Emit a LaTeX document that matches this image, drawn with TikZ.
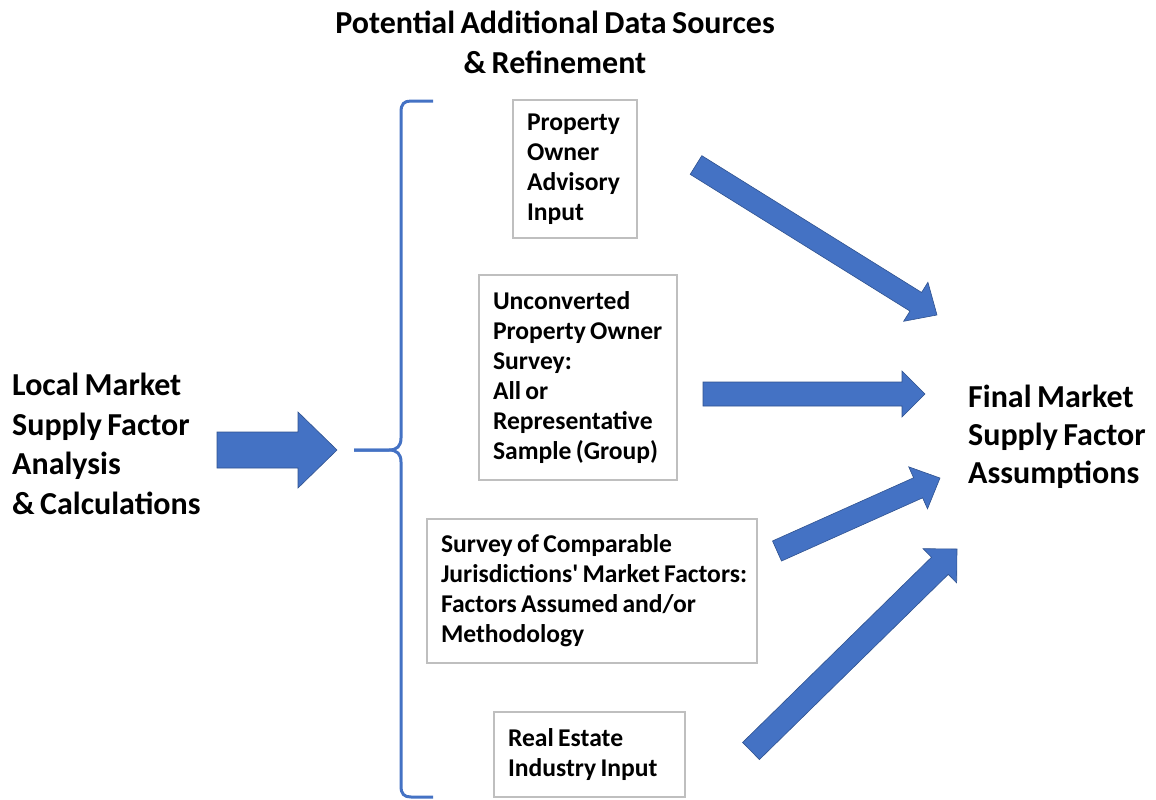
\documentclass[tikz,border=0pt]{standalone}
\usepackage{fontspec}
\setmainfont{Carlito}[WordSpace=0.75]
\definecolor{arrowblue}{HTML}{4472C4}
\definecolor{arrowedge}{HTML}{2F528F}
\definecolor{boxgray}{HTML}{BFBFBF}
\tikzset{
  blockarr/.style={fill=arrowblue, draw=arrowedge, line width=0.6pt, line join=miter},
  srcbox/.style={draw=boxgray, line width=1.2pt, align=flush left, inner xsep=14pt, inner ysep=0pt,
    font=\fontsize{25.6}{30}\selectfont\bfseries, anchor=center},
  bigtext/.style={align=left, inner sep=0pt, anchor=north west, font=\fontsize{32}{39.5}\selectfont\bfseries},
  righttext/.style={align=left, inner sep=0pt, anchor=north west, font=\fontsize{32}{38}\selectfont\bfseries},
  titletext/.style={align=center, inner sep=0pt, anchor=north, font=\fontsize{32}{40}\selectfont\bfseries},
  bracestyle/.style={draw=arrowblue, line width=3pt},
}
% #1,#2 tail centre; #3,#4 tip; #5 shaft half width; #6 head half width; #7 head length
\newcommand\blockarrow[7]{%
  \pgfmathsetmacro\arrang{atan2(-(#4-#2),#3-#1)}%
  \pgfmathsetmacro\arrlen{veclen(#3-#1,#4-#2)}%
  \begin{scope}[shift={(#1,#2)}, rotate=\arrang]
    \filldraw[blockarr] (0,-#5) -- (\arrlen-#7,-#5) -- (\arrlen-#7,-#6) -- (\arrlen,0)
      -- (\arrlen-#7,#6) -- (\arrlen-#7,#5) -- (0,#5) -- cycle;
  \end{scope}}
\begin{document}
\begin{tikzpicture}[x=1pt,y=-1pt]
\path[use as bounding box] (0,0) rectangle (1156,800);

% title
\node[titletext] (title) at (555,11) {Potential Additional Data Sources\\\& Refinement};

% left and right texts
\node[bigtext] (local) at (12,373) {Local Market\\Supply Factor\\Analysis\\\& Calculations};
\node[righttext] (final) at (968,385) {Final Market\\Supply Factor\\Assumptions};

% source boxes
\node[srcbox, text width=96pt, minimum height=138pt] (advisory) at (575,169)
  {\mbox{Property}\\\mbox{Owner}\\\mbox{Advisory}\\\mbox{Input}};
\node[srcbox, text width=170pt, minimum height=205pt] (survey) at (578,377.5)
  {\mbox{Unconverted}\\\mbox{Property Owner}\\\mbox{Survey:}\\\mbox{All or}\\\mbox{Representative}\\\mbox{Sample (Group)}};
\node[srcbox, text width=302pt, minimum height=144pt] (comparable) at (592,591)
  {\mbox{Survey of Comparable}\\\mbox{Jurisdictions\textquotesingle{} Market Factors:}\\\mbox{Factors Assumed and/or}\\\mbox{Methodology}};
\node[srcbox, text width=163pt, minimum height=85pt] (realestate) at (589.5,754.5)
  {\mbox{Real Estate}\\\mbox{Industry Input}};

% brace
\coordinate (bracetip) at (354,450);
\draw[bracestyle] (433,101) -- (411,101) .. controls (404,101) and (401,104) .. (401,112)
  -- (401,438) .. controls (401,446) and (397,450) .. (389,450) -- (bracetip);
\draw[bracestyle] (bracetip) -- (389,450) .. controls (397,450) and (401,454) .. (401,462)
  -- (401,786) .. controls (401,794) and (404,797) .. (411,797) -- (433,797);

% block arrows
\blockarrow{217}{450}{337}{450}{18}{38}{39}
\blockarrow{696}{165}{937}{315}{11}{23}{25}
\blockarrow{703}{394}{925}{394}{12}{23}{23}
\blockarrow{777}{551}{940}{478}{11}{23}{24}
\blockarrow{751}{751}{957}{549}{12}{24}{24}
\end{tikzpicture}
\end{document}
